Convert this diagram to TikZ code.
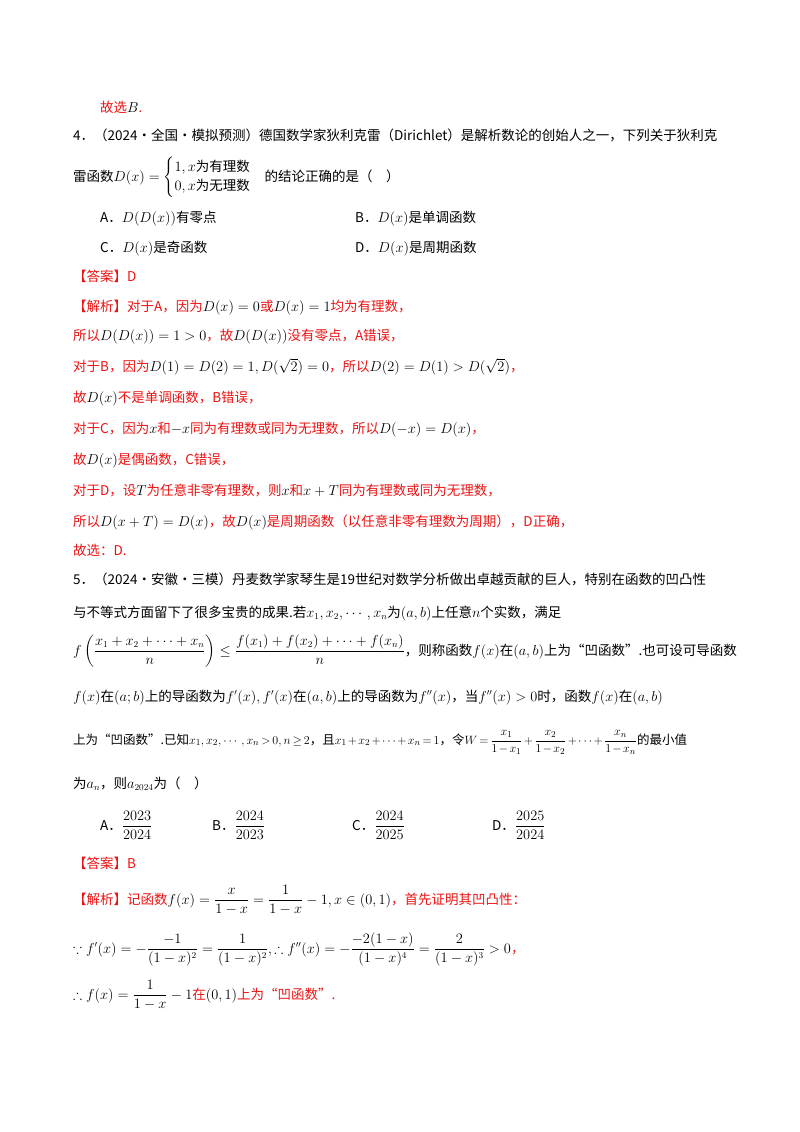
\documentclass[tikz,border=0pt]{standalone}
\usepackage{amsmath,amssymb}
\usepackage{fontspec}
\setmainfont{Noto Sans CJK SC}
\definecolor{rd}{RGB}{235,20,20}
\newcommand\R[1]{\textcolor{rd}{#1}}
\begin{document}
\begin{tikzpicture}[x=1pt,y=-1pt,
  ln/.style={anchor=base west,inner sep=0pt,font=\fontsize{13.5}{16}\selectfont}]
\useasboundingbox (0,0) rectangle (800,1132);
\fill[white] (0,0) rectangle (800,1132);
\node[ln] (l1) at (100,112) {\R{故选}$B$\R{.}};
\node[ln] (l2) at (73,140) {4．（2024·全国·模拟预测）德国数学家狄利克雷（Dirichlet）是解析数论的创始人之一，下列关于狄利克};
\node[ln] (l3) at (73,181) {雷函数$D(x)=\begin{cases}1,x\mbox{为有理数}\\0,x\mbox{为无理数}\end{cases}$的结论正确的是（\quad）};
\node[ln] (oa) at (100,222) {A．$D(D(x))$有零点};
\node[ln] (ob) at (355,222) {B．$D(x)$是单调函数};
\node[ln] (oc) at (100,252) {C．$D(x)$是奇函数};
\node[ln] (od) at (355,252) {D．$D(x)$是周期函数};
\node[ln] (an) at (73,281) {\R{【答案】D}};
\node[ln] (j1) at (73,311) {\R{【解析】对于A，因为}$D(x)=0$\R{或}$D(x)=1$\R{均为有理数，}};
\node[ln] (j2) at (73,340) {\R{所以}$D(D(x))=1>0$\R{，故}$D(D(x))$\R{没有零点，A错误，}};
\node[ln] (j3) at (73,371) {\R{对于B，因为}$D(1)=D(2)=1,D(\sqrt2)=0$\R{，所以}$D(2)=D(1)>D(\sqrt2)$\R{，}};
\node[ln] (j4) at (73,402) {\R{故}$D(x)$\R{不是单调函数，B错误，}};
\node[ln] (j5) at (73,433) {\R{对于C，因为}$x$\R{和}$-x$\R{同为有理数或同为无理数，所以}$D(-x)=D(x)$\R{，}};
\node[ln] (j6) at (73,464) {\R{故}$D(x)$\R{是偶函数，C错误，}};
\node[ln] (j7) at (73,495) {\R{对于D，设}$T$\R{为任意非零有理数，则}$x$\R{和}$x+T$\R{同为有理数或同为无理数，}};
\node[ln] (j8) at (73,526) {\R{所以}$D(x+T)=D(x)$\R{，故}$D(x)$\R{是周期函数（以任意非零有理数为周期），D正确，}};
\node[ln] (j9) at (73,555) {\R{故选：D.}};
\node[ln] (q1) at (73,584) {5．（2024·安徽·三模）丹麦数学家琴生是19世纪对数学分析做出卓越贡献的巨人，特别在函数的凹凸性};
\node[ln] (q2) at (73,617) {与不等式方面留下了很多宝贵的成果.若$x_1,x_2,\cdots,x_n$为$(a,b)$上任意$n$个实数，满足};
\node[ln] (q3) at (73,655) {$f\left(\dfrac{x_1+x_2+\cdots+x_n}{n}\right)\le\dfrac{f(x_1)+f(x_2)+\cdots+f(x_n)}{n}$，则称函数$f(x)$在$(a,b)$上为“凹函数”.也可设可导函数};
\node[ln] (q4) at (73,701) {$f(x)$在$(a;b)$上的导函数为$f'(x),f'(x)$在$(a,b)$上的导函数为$f''(x)$，当$f''(x)>0$时，函数$f(x)$在$(a,b)$};
\node[ln,font=\fontsize{12.5}{15}\selectfont] (q5) at (73,744) {\medmuskip=2mu\thickmuskip=3mu 上为“凹函数”.已知$x_1,x_2,\cdots,x_n>0,n\ge2$，且$x_1+x_2+\cdots+x_n=1$，令$W=\dfrac{x_1}{1-x_1}+\dfrac{x_2}{1-x_2}+\cdots+\dfrac{x_n}{1-x_n}$的最小值};
\node[ln] (q6) at (73,788) {为$a_n$，则$a_{2024}$为（\quad）};
\node[ln] (pa) at (100,830) {A．$\dfrac{2023}{2024}$};
\node[ln] (pb) at (212,830) {B．$\dfrac{2024}{2023}$};
\node[ln] (pc) at (352,830) {C．$\dfrac{2024}{2025}$};
\node[ln] (pd) at (492,830) {D．$\dfrac{2025}{2024}$};
\node[ln] (bn) at (73,868) {\R{【答案】B}};
\node[ln] (k1) at (73,904) {\R{【解析】记函数}$f(x)=\dfrac{x}{1-x}=\dfrac{1}{1-x}-1,x\in(0,1)$\R{，首先证明其凹凸性：}};
\node[ln] (k2) at (73,953) {$\because f'(x)=-\dfrac{-1}{(1-x)^2}=\dfrac{1}{(1-x)^2},\therefore f''(x)=-\dfrac{-2(1-x)}{(1-x)^4}=\dfrac{2}{(1-x)^3}>0$\R{，}};
\node[ln] (k3) at (73,999) {$\therefore f(x)=\dfrac{1}{1-x}-1$\R{在}$(0,1)$\R{上为“凹函数”.}};
\end{tikzpicture}
\end{document}
